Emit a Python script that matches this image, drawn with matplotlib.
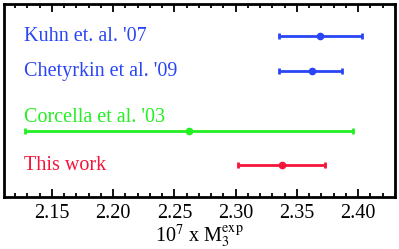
import numpy as np
import matplotlib.pyplot as plt

plt.rcParams['font.family'] = ['Liberation Serif', 'DejaVu Serif']
plt.rcParams['mathtext.fontset'] = 'stix'

labels = ["Kuhn et. al. '07", "Chetyrkin et al. '09", "Corcella et al. '03", "This work"]
centers = [2.369, 2.362, 2.262, 2.338]
err_lo = [0.034, 0.027, 0.134, 0.036]
err_hi = [0.034, 0.025, 0.134, 0.035]
colors = ["#2a45f5", "#2a45f5", "#22f022", "#f5153a"]
ypos = [4.79, 3.76, 2.0, 1.0]
label_y = [4.79, 3.76, 2.41, 1.0]

fig = plt.figure(figsize=(3.99, 2.49), dpi=100)
ax = fig.add_axes([4 / 399, 1 - 197 / 249, 391 / 399, 193 / 249])

for c, lo, hi, col, y, lab, ly in zip(centers, err_lo, err_hi, colors, ypos, labels, label_y):
    ax.errorbar(c, y, xerr=[[lo], [hi]], fmt='o', color=col, ms=4.5, lw=2,
                capsize=2.5, capthick=2)
    ax.text(2.127, ly, lab, color=col, fontsize=14.5, va='center', ha='left')

ax.set_xlim(2.111, 2.429)
ax.set_ylim(0.06, 5.735)
ax.set_xticks([2.15, 2.20, 2.25, 2.30, 2.35, 2.40])
ax.set_xticks(np.arange(2.12, 2.43, 0.01), minor=True)
ax.set_yticks([])
ax.tick_params(axis='x', which='both', direction='in', top=True, labelsize=14.5, pad=5)
ax.tick_params(axis='x', which='major', length=6, width=1.3)
ax.tick_params(axis='x', which='minor', length=3, width=1.3)
for s in ax.spines.values():
    s.set_linewidth(2)
ax.set_xlabel(r"10$^7$ x M$_3^{\rm exp}$", fontsize=14.5, labelpad=0)

fig.savefig("out.png", dpi=100)
